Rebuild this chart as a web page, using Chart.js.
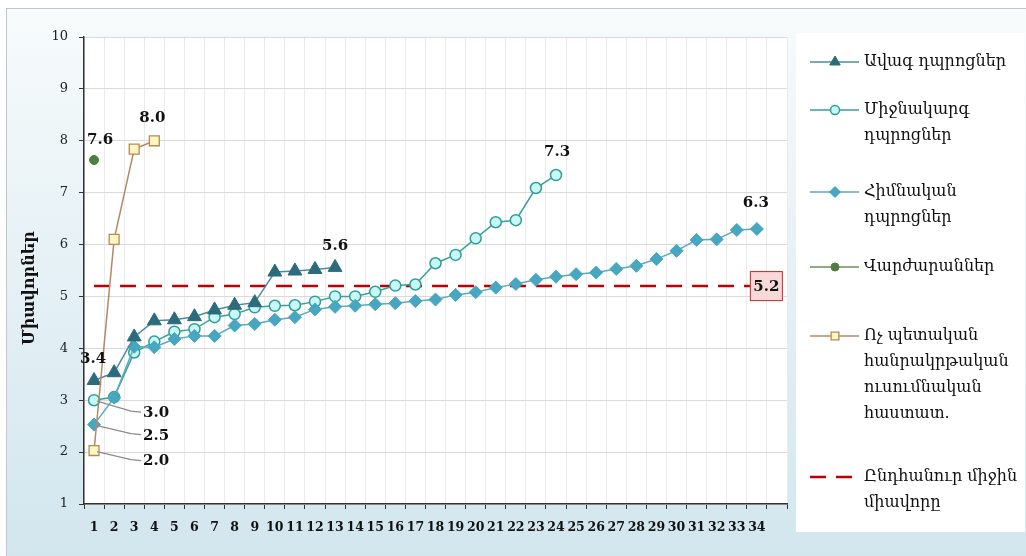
<!DOCTYPE html>
<html>
<head>
<meta charset="utf-8">
<script src="https://cdn.jsdelivr.net/npm/chart.js@4.4.0/dist/chart.umd.min.js"></script>
<style>
    html, body { margin: 0; padding: 0; background: #ffffff; }
    #wrap { width: 1026px; height: 556px; }
</style>
</head>
<body>
<div id="wrap"><canvas id="chart" width="1026" height="556"></canvas></div>
<script>
"use strict"

// x axis categories (the last slot stays empty, like in the original)
const categories = ["1", "2", "3", "4", "5", "6", "7", "8", "9", "10", "11", "12",
    "13", "14", "15", "16", "17", "18", "19", "20", "21", "22", "23", "24", "25",
    "26", "27", "28", "29", "30", "31", "32", "33", "34", ""];

// scores per school, sorted
const seniorScores = [3.38, 3.53, 4.22, 4.53, 4.55, 4.61, 4.74, 4.83, 4.88, 5.47, 5.49, 5.52, 5.56];
const secondaryScores = [3.0, 3.06, 3.92, 4.13, 4.32, 4.37, 4.6, 4.66, 4.79, 4.82, 4.83, 4.9,
    5.0, 5.0, 5.09, 5.21, 5.23, 5.64, 5.8, 6.12, 6.43, 6.47, 7.09, 7.34];
const basicScores = [2.53, 3.05, 4.03, 4.02, 4.18, 4.24, 4.24, 4.44, 4.47, 4.55, 4.6, 4.75,
    4.8, 4.82, 4.85, 4.87, 4.91, 4.94, 5.03, 5.08, 5.17, 5.24, 5.32, 5.38, 5.43, 5.46,
    5.53, 5.59, 5.72, 5.88, 6.09, 6.1, 6.28, 6.3];
const collegeScores = [7.63];
const privateScores = [2.03, 6.1, 7.84, 8.0];

// overall average
const avgScore = 5.2;
const avgLine = [{x: "1", y: avgScore}, {x: "34", y: avgScore}];

// legend names, split in lines
const seriesNames = [
    ["Ավագ դպրոցներ"],
    ["Միջնակարգ", "դպրոցներ"],
    ["Հիմնական", "դպրոցներ"],
    ["Վարժարաններ"],
    ["Ոչ պետական", "հանրակրթական", "ուսումնական", "հաստատ."],
    ["Ընդհանուր միջին", "միավորը"]
];
const yTitle = "Միավորներ";

const serif = "'DejaVu Serif', serif";


// background, plot area and legend box
const bgPlugin = {
    id: "bg",
    beforeDraw(chart) {
        const {ctx, chartArea: a, width, height} = chart;
        ctx.save();
        ctx.fillStyle = "#ffffff";
        ctx.fillRect(0, 0, width, height);
        const g = ctx.createLinearGradient(0, 8, 0, height);
        g.addColorStop(0, "#f7fbfc");
        g.addColorStop(1, "#d2e6ee");
        ctx.fillStyle = g;
        ctx.fillRect(6, 8, width - 6, height - 8);
        ctx.strokeStyle = "#c2c6c8";
        ctx.lineWidth = 1;
        ctx.strokeRect(6.5, 8.5, width + 10, height + 10);
        ctx.fillStyle = "#ffffff";
        ctx.fillRect(a.left, a.top, a.right - a.left, a.bottom - a.top);
        ctx.fillRect(796, 33, 229, 499);
        ctx.restore();
    }
};

// value labels: dataset, point, offset; leader = label to the right with a line
const valueLabels = [
    {ds: 3, i: 0, dx: 6, dy: -20},
    {ds: 4, i: 3, dx: -2, dy: -23},
    {ds: 0, i: 12, dx: 0, dy: -21},
    {ds: 1, i: 23, dx: 1, dy: -23},
    {ds: 2, i: 33, dx: -1, dy: -26},
    {ds: 0, i: 0, dx: -1, dy: -21},
    {ds: 1, i: 0, dy: 13, leader: true},
    {ds: 2, i: 0, dy: 11, leader: true},
    {ds: 4, i: 0, dy: 11, leader: true}
];

const labelPlugin = {
    id: "labels",
    afterDatasetsDraw(chart) {
        const ctx = chart.ctx;
        ctx.save();
        ctx.font = "bold 15px " + serif;
        ctx.fillStyle = "#111111";
        ctx.textBaseline = "middle";
        valueLabels.forEach(l => {
            const pt = chart.getDatasetMeta(l.ds).data[l.i];
            const val = chart.data.datasets[l.ds].data[l.i];
            const txt = val.toFixed(1);
            if (l.leader) {
                ctx.strokeStyle = "#8c8c8c";
                ctx.lineWidth = 1.3;
                ctx.beginPath();
                ctx.moveTo(pt.x + 3, pt.y + 1);
                ctx.lineTo(pt.x + 37, pt.y + l.dy - 2);
                ctx.lineTo(pt.x + 47, pt.y + l.dy - 1);
                ctx.stroke();
                ctx.textAlign = "left";
                ctx.fillText(txt, pt.x + 49, pt.y + l.dy);
            } else {
                ctx.textAlign = "center";
                ctx.fillText(txt, pt.x + l.dx, pt.y + l.dy);
            }
        });

        // average value box at the end of the dashed line
        const avgMeta = chart.getDatasetMeta(5).data;
        const end = avgMeta[avgMeta.length - 1];
        ctx.fillStyle = "#f7d9d9";
        ctx.strokeStyle = "#d02a2a";
        ctx.lineWidth = 1;
        ctx.fillRect(end.x - 7, end.y - 15, 33, 30);
        ctx.strokeRect(end.x - 6.5, end.y - 14.5, 32, 29);
        ctx.fillStyle = "#111111";
        ctx.textAlign = "center";
        ctx.fillText(avgScore.toFixed(1), end.x + 9.5, end.y + 1);
        ctx.restore();
    }
};

// y title + legend on the right
const legendY = [62, 110, 192, 267, 336, 477];

const legendPlugin = {
    id: "sideLegend",
    afterDraw(chart) {
        const ctx = chart.ctx;
        ctx.save();

        ctx.translate(30, 288);
        ctx.rotate(-Math.PI / 2);
        ctx.font = "bold 16px " + serif;
        ctx.fillStyle = "#111111";
        ctx.textAlign = "center";
        ctx.textBaseline = "middle";
        ctx.fillText(yTitle, 0, 0);
        ctx.setTransform(1, 0, 0, 1, 0, 0);

        const sizes = [6, 4.5, 5.5, 4, 5.5];
        chart.data.datasets.forEach((ds, k) => {
            const y = legendY[k];
            ctx.strokeStyle = ds.borderColor;
            ctx.lineWidth = ds.borderWidth;
            ctx.setLineDash(ds.borderDash || []);
            ctx.beginPath();
            ctx.moveTo(810, y);
            ctx.lineTo(859, y);
            ctx.stroke();
            ctx.setLineDash([]);
            if (k < 5) {
                ctx.fillStyle = ds.pointBackgroundColor;
                ctx.strokeStyle = ds.pointBorderColor;
                ctx.lineWidth = ds.pointBorderWidth;
                Chart.helpers.drawPoint(ctx, {
                    pointStyle: ds.pointStyle,
                    radius: sizes[k],
                    rotation: 0,
                    borderWidth: ds.pointBorderWidth
                }, 835, y);
            }
            ctx.font = "16px " + serif;
            ctx.fillStyle = "#111111";
            ctx.textAlign = "left";
            ctx.textBaseline = "middle";
            seriesNames[k].forEach((line, j) => {
                ctx.fillText(line, 864, y + j * 26);
            });
        });
        ctx.restore();
    }
};


let ctx = document.querySelector("#chart");
let scoreChart = new Chart(ctx, {
    type: "line",
    data: {
        labels: categories,
        datasets: [{
            label: seriesNames[0].join(" "),
            data: seniorScores,
            borderColor: "#4f8d9a",
            borderWidth: 1.5,
            pointStyle: "triangle",
            pointRadius: 8,
            pointBackgroundColor: "#2c6b7b",
            pointBorderColor: "#2c6b7b",
            pointBorderWidth: 1,
            order: 2
        }, {
            label: seriesNames[1].join(" "),
            data: secondaryScores,
            borderColor: "#35a39b",
            borderWidth: 1.5,
            pointStyle: "circle",
            pointRadius: 5.5,
            pointBackgroundColor: "#c8f8f6",
            pointBorderColor: "#2f9e96",
            pointBorderWidth: 1.5,
            order: 4
        }, {
            label: seriesNames[2].join(" "),
            data: basicScores,
            borderColor: "#5aabbf",
            borderWidth: 1.5,
            pointStyle: "rectRot",
            pointRadius: 6.5,
            pointBackgroundColor: "#47a6c0",
            pointBorderColor: "#47a6c0",
            pointBorderWidth: 1,
            order: 3
        }, {
            label: seriesNames[3].join(" "),
            data: collegeScores,
            borderColor: "#6a9158",
            borderWidth: 1.5,
            showLine: false,
            pointStyle: "circle",
            pointRadius: 4.5,
            pointBackgroundColor: "#4f7f3f",
            pointBorderColor: "#4f7f3f",
            pointBorderWidth: 1,
            order: 1
        }, {
            label: seriesNames[4].join(" "),
            data: privateScores,
            borderColor: "#b58863",
            borderWidth: 1.5,
            pointStyle: "rect",
            pointRadius: 7,
            pointBackgroundColor: "#fff6c2",
            pointBorderColor: "#b38a55",
            pointBorderWidth: 1.3,
            order: 0
        }, {
            label: seriesNames[5].join(" "),
            data: avgLine,
            borderColor: "#c00000",
            borderWidth: 2.5,
            borderDash: [16, 10],
            pointRadius: 0,
            order: 10
        }]
    },
    options: {
        responsive: false,
        animation: false,
        devicePixelRatio: 1,
        layout: {padding: {left: 0, top: 37, right: 239, bottom: 0}},
        plugins: {
            legend: {display: false},
            tooltip: {enabled: false}
        },
        scales: {
            x: {
                offset: true,
                grid: {offset: true, color: "#ebebeb", tickColor: "#333333", tickLength: 5},
                border: {color: "#333333", width: 1.5},
                ticks: {
                    font: {family: serif, size: 12.5, weight: "bold"},
                    color: "#111111",
                    padding: 11,
                    maxRotation: 0,
                    autoSkip: false
                },
                afterFit(s) { s.height = 52; }
            },
            y: {
                min: 1,
                max: 10,
                grid: {color: "#dadada", tickColor: "#333333", tickLength: 5},
                border: {color: "#333333", width: 1.5},
                ticks: {
                    stepSize: 1,
                    font: {family: serif, size: 13},
                    color: "#222222",
                    padding: 11
                },
                afterFit(s) { s.width = 84; }
            }
        }
    },
    plugins: [bgPlugin, labelPlugin, legendPlugin]
});
</script>
</body>
</html>
